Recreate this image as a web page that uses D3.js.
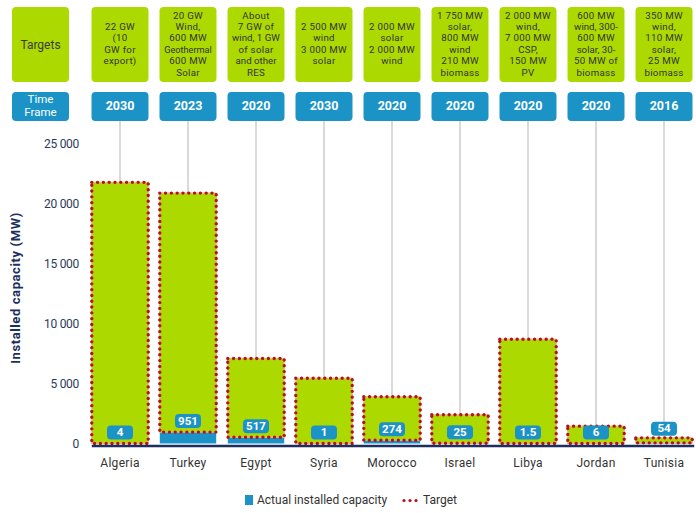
<!DOCTYPE html>
<html><head><meta charset="utf-8">
<script src="https://cdn.jsdelivr.net/npm/d3@7"></script>
<style>
body{margin:0;background:#fff;}
svg{display:block;font-family:Roboto, "DejaVu Sans", sans-serif;}
</style></head>
<body>
<svg id="chart" width="696" height="513"></svg>
<script>
const countries = ["Algeria","Turkey","Egypt","Syria","Morocco","Israel","Libya","Jordan","Tunisia"];
const targetValues = [21800, 20900, 7100, 5450, 3900, 2400, 8700, 1450, 470];
const actualValues = [4, 951, 517, 1, 274, 25, 1.5, 6, 54];
const actualLabels = ["4","951","517","1","274","25","1.5","6","54"];
const timeFrames = ["2030","2023","2020","2030","2020","2020","2020","2020","2016"];
const targetTexts = [
  ["22 GW","(10","GW for","export)"],
  ["20 GW","Wind,","600 MW","Geothermal","600 MW","Solar"],
  ["About","7 GW of","wind, 1 GW","of solar","and other","RES"],
  ["2 500 MW","wind","3 000 MW","solar"],
  ["2 000 MW","solar","2 000 MW","wind"],
  ["1 750 MW","solar,","800 MW","wind","210 MW","biomass"],
  ["2 000 MW","wind,","7 000 MW","CSP,","150 MW","PV"],
  ["600 MW","wind, 300-","600 MW","solar, 30-","50 MW of","biomass"],
  ["350 MW","wind,","110 MW","solar,","25 MW","biomass"]
];
const yTicks = [0, 5000, 10000, 15000, 20000, 25000];

const GREEN = "#acd900", BLUE = "#1b93c6", NAVY = "#1c2f5e", DOT = "#b3121a";
const svg = d3.select("#chart");

const x = d3.scaleBand().domain(countries).range([86, 698]).paddingInner(0.17).paddingOuter(0.085);
const y = d3.scaleLinear().domain([0, 25000]).range([443.5, 144]);
const fmt = v => d3.format(",")(v).replace(/,/g, " ");
const cx = c => x(c) + x.bandwidth() / 2;
const bw = x.bandwidth();

// header column left
svg.append("rect").attr("x",12).attr("y",7).attr("width",57).attr("height",75).attr("rx",4).attr("fill",GREEN);
svg.append("text").attr("x",40.5).attr("y",46).attr("text-anchor","middle").attr("dominant-baseline","middle")
  .attr("font-size",12).attr("fill","#3a3a3a").text("Targets");
svg.append("rect").attr("x",12).attr("y",92).attr("width",57).attr("height",29).attr("rx",4).attr("fill",BLUE);
svg.append("text").attr("x",40.5).attr("y",99.5).attr("text-anchor","middle").attr("dominant-baseline","middle")
  .attr("font-size",11.5).attr("fill","#fff").text("Time");
svg.append("text").attr("x",40.5).attr("y",113).attr("text-anchor","middle").attr("dominant-baseline","middle")
  .attr("font-size",11.5).attr("fill","#fff").text("Frame");

const hw = 57;
countries.forEach((c, i) => {
  const xc = cx(c);
  // connector
  svg.append("line").attr("x1",xc).attr("x2",xc).attr("y1",121).attr("y2",y(targetValues[i]))
    .attr("stroke","#b5b5b5").attr("stroke-width",1);
  svg.append("rect").attr("x",xc-hw/2).attr("y",7).attr("width",hw).attr("height",75).attr("rx",4).attr("fill",GREEN);
  const lines = targetTexts[i];
  const lh = 11.4;
  const y0 = 44.5 - (lines.length - 1) * lh / 2;
  const t = svg.append("text").attr("text-anchor","middle").attr("fill","#333");
  lines.forEach((l, j) => {
    t.append("tspan").attr("x",xc).attr("y",y0 + j*lh).attr("dominant-baseline","middle")
      .attr("font-size", l === "Geothermal" ? 9.2 : 9.7).attr("letter-spacing", l.length > 8 ? 0 : 0.3).text(l);
  });
  svg.append("rect").attr("x",xc-hw/2).attr("y",92).attr("width",hw).attr("height",29).attr("rx",4).attr("fill",BLUE);
  svg.append("text").attr("x",xc).attr("y",107).attr("text-anchor","middle").attr("dominant-baseline","middle")
    .attr("font-size",12.5).attr("font-weight","bold").attr("fill","#fff").text(timeFrames[i]);
});

// bars
countries.forEach((c, i) => {
  const x0 = x(c);
  const ya = y(actualValues[i]), yt = y(targetValues[i]);
  svg.append("rect").attr("x",x0).attr("y",yt).attr("width",bw).attr("height",ya-yt).attr("fill",GREEN);
  svg.append("rect").attr("x",x0).attr("y",ya).attr("width",bw).attr("height",y(0)-ya).attr("fill",BLUE);
  svg.append("rect").attr("x",x0).attr("y",yt).attr("width",bw).attr("height",ya-yt)
    .attr("fill","none").attr("stroke","#f4b37a").attr("stroke-width",1.2);
  svg.append("rect").attr("x",x0).attr("y",yt).attr("width",bw).attr("height",ya-yt)
    .attr("fill","none").attr("stroke",DOT).attr("stroke-width",3.4)
    .attr("stroke-dasharray","0 5.8").attr("stroke-linecap","round");
});

// baseline
svg.append("line").attr("x1",x(countries[0])).attr("x2",x(countries[8])+bw+2).attr("y1",y(0)+2.5).attr("y2",y(0)+2.5)
  .attr("stroke",NAVY).attr("stroke-width",2.5);

// value labels
countries.forEach((c, i) => {
  const xc = cx(c);
  const base = y(0);
  let bottom = Math.min(y(actualValues[i]) - 4, base - 2);
  if (y(targetValues[i]) > base - 16) bottom = y(targetValues[i]) - 2;
  const w = 26, h = 14;
  svg.append("rect").attr("x",xc-w/2).attr("y",bottom-h).attr("width",w).attr("height",h).attr("rx",4).attr("fill",BLUE);
  svg.append("text").attr("x",xc).attr("y",bottom-h/2+0.5).attr("text-anchor","middle").attr("dominant-baseline","middle")
    .attr("font-size",11.5).attr("font-weight","bold").attr("fill","#fff").text(actualLabels[i]);
});

// y axis
const yAxis = d3.axisLeft(y).tickValues(yTicks).tickFormat(fmt).tickSize(0).tickPadding(0);
const ga = svg.append("g").attr("transform","translate(79,0)").call(yAxis);
ga.select(".domain").remove();
ga.selectAll("text").attr("font-size",12).attr("fill","#2b3a5c").attr("font-family","Roboto, sans-serif").attr("letter-spacing",-0.3);

svg.append("text").attr("transform","translate(20,288) rotate(-90)").attr("text-anchor","middle")
  .attr("font-size",13).attr("letter-spacing",0.6).attr("font-weight","bold").attr("fill",NAVY).text("Installed capacity (MW)");

// x axis
const xAxis = d3.axisBottom(x).tickSize(0).tickPadding(0);
const gx = svg.append("g").attr("transform","translate(0,458)").call(xAxis);
gx.select(".domain").remove();
gx.selectAll("text").attr("font-size",12).attr("fill","#333").attr("font-family","Roboto, sans-serif").attr("letter-spacing",0.3);

// legend
svg.append("rect").attr("x",245).attr("y",495).attr("width",8).attr("height",10).attr("fill",BLUE);
svg.append("text").attr("x",257).attr("y",504).attr("font-size",12).attr("fill","#333").text("Actual installed capacity");
[404, 410, 416].forEach(px => svg.append("circle").attr("cx",px).attr("cy",500.5).attr("r",1.6).attr("fill",DOT));
svg.append("text").attr("x",423).attr("y",504).attr("font-size",12).attr("fill","#333").text("Target");
</script>
</body></html>
